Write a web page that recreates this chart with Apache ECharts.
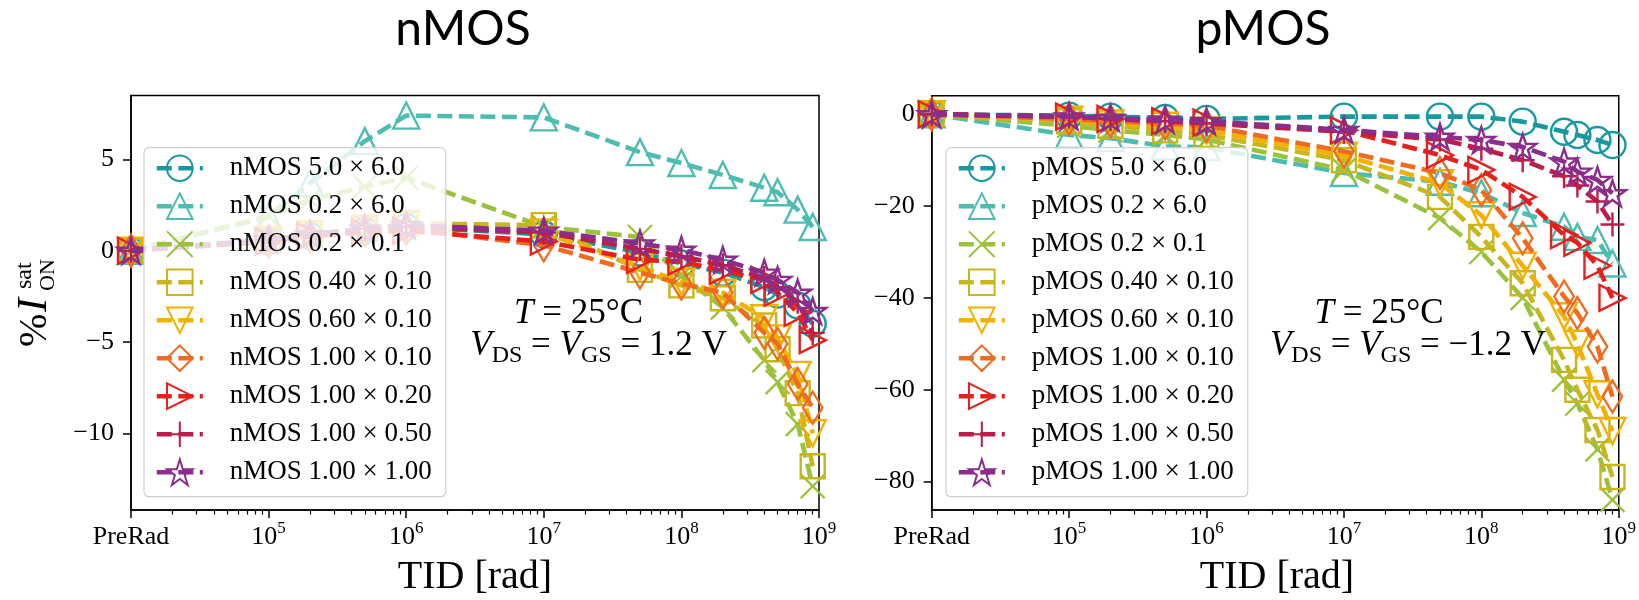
<!DOCTYPE html>
<html>
<head>
<meta charset="utf-8">
<script src="https://cdn.jsdelivr.net/npm/echarts@6/dist/echarts.min.js"></script>
<style>
  html, body { margin: 0; padding: 0; background: #fff; }
  #chart { width: 1639px; height: 600px; }
</style>
</head>
<body>
<div id="chart"></div>
<script>
// ---------------- DATA ----------------
// TID doses in rad; the PreRad point is drawn at 1e4 (the "PreRad" tick)
const doseRad = [1e4, 1e5, 2e5, 5e5, 1e6, 1e7, 5e7, 1e8, 2e8, 4e8, 5e8, 7e8, 9e8];
const xTickValues = [1e4, 1e5, 1e6, 1e7, 1e8, 1e9];
const xTickLabels = ['PreRad', '10^5', '10^6', '10^7', '10^8', '10^9'];
const nYTicks = [-10, -5, 0, 5];
const pYTicks = [-80, -60, -40, -20, 0];
const deviceSizes = ['5.0 × 6.0', '0.2 × 6.0', '0.2 × 0.1', '0.40 × 0.10', '0.60 × 0.10',
                     '1.00 × 0.10', '1.00 × 0.20', '1.00 × 0.50', '1.00 × 1.00'];

// nMOS  %I_ON^sat
const n_5p0x6p0   = [0, 0.5, 0.8, 1.1, 1.3, 0.9, -0.1, -0.7, -1.2, -2.0, -2.4, -3.0, -4.0];
const n_0p2x6p0   = [0, 1.85, 3.7, 6.0, 7.4, 7.3, 5.4, 4.8, 4.15, 3.45, 3.2, 2.25, 1.3];
const n_0p2x0p1   = [0, 1.9, 2.8, 3.5, 4.0, 1.3, 0.75, -1.4, -3.1, -6.0, -7.2, -9.5, -12.9];
const n_0p40x0p10 = [0, 0.6, 0.9, 1.2, 1.5, 1.4, -1.05, -1.9, -2.6, -4.1, -5.4, -7.8, -11.8];
const n_0p60x0p10 = [0, 0.6, 0.9, 1.2, 1.4, 1.0, -0.9, -1.7, -2.3, -3.7, -4.8, -6.8, -10.0];
const n_1p00x0p10 = [0, 0.5, 0.8, 1.1, 1.2, 0.3, -1.2, -1.8, -2.3, -4.5, -5.1, -7.3, -8.6];
const n_1p00x0p20 = [0, 0.5, 0.8, 1.0, 1.1, 0.5, -0.5, -0.6, -1.1, -1.6, -2.3, -3.4, -4.9];
const n_1p00x0p50 = [0, 0.6, 0.9, 1.2, 1.3, 1.0, 0.1, -0.3, -0.8, -1.5, -2.0, -2.8, -4.5];
const n_1p00x1p00 = [0, 0.6, 0.9, 1.2, 1.4, 1.1, 0.4, 0.05, -0.5, -1.2, -1.6, -2.3, -3.3];

// pMOS  %I_ON^sat
const p_5p0x6p0   = [0, -0.3, -0.5, -0.8, -1.0, -0.5, -0.5, -0.5, -1.6, -3.8, -4.5, -5.6, -6.7];
const p_0p2x6p0   = [0, -4.5, -5.2, -7.0, -7.2, -12.8, -14.7, -17.2, -21.5, -24.5, -26.7, -27.4, -32.5];
const p_0p2x0p1   = [0, -2.5, -3.5, -4.5, -5.5, -12.1, -22.6, -30.0, -40.0, -57.8, -63.0, -73.0, -84.0];
const p_0p40x0p10 = [0, -1.5, -2.5, -3.5, -4.5, -10.0, -18.0, -26.7, -36.8, -53.5, -60.0, -68.8, -79.0];
const p_0p60x0p10 = [0, -1.2, -2.0, -2.5, -3.5, -9.0, -15.0, -22.0, -33.0, -44.0, -50.0, -61.0, -69.0];
const p_1p00x0p10 = [0, -1.0, -1.5, -2.0, -2.5, -8.1, -12.8, -16.5, -27.0, -39.7, -43.3, -50.6, -61.5];
const p_1p00x0p20 = [0, -0.5, -1.0, -1.5, -1.8, -3.5, -8.9, -12.1, -18.0, -26.3, -28.0, -33.0, -40.0];
const p_1p00x0p50 = [0, -0.5, -1.0, -1.5, -2.0, -3.8, -5.5, -7.5, -10.0, -13.5, -15.5, -19.0, -24.0];
const p_1p00x1p00 = [0, -0.5, -0.8, -1.2, -1.5, -3.4, -4.9, -5.6, -7.1, -10.3, -12.5, -14.3, -17.2];

const nmosSeries = [n_5p0x6p0, n_0p2x6p0, n_0p2x0p1, n_0p40x0p10, n_0p60x0p10, n_1p00x0p10, n_1p00x0p20, n_1p00x0p50, n_1p00x1p00];
const pmosSeries = [p_5p0x6p0, p_0p2x6p0, p_0p2x0p1, p_0p40x0p10, p_0p60x0p10, p_1p00x0p10, p_1p00x0p20, p_1p00x0p50, p_1p00x1p00];

// ---------------- STYLE ----------------
const colors = ['#17999f', '#4dbcb1', '#9cc13c', '#c8b61f', '#f4b000', '#ee6b1f', '#e4211d', '#bb1e48', '#8a2d8c'];
function starPath() {
  let d = '';
  for (let k = 0; k < 10; k++) {
    const r = (k % 2 === 0) ? 10 : 3.82;
    const a = -Math.PI / 2 + k * Math.PI / 5;
    d += (k === 0 ? 'M' : 'L') + (10 + r * Math.cos(a)).toFixed(3) + ',' + (10 + r * Math.sin(a)).toFixed(3);
  }
  return 'path://' + d + 'Z';
}
const symbols = ['circle', 'triangle', 'path://M0,0L10,10M10,0L0,10', 'rect',
  'path://M0,0L10,0L5,10Z', 'path://M0,0L7.8,10L0,20L-7.8,10Z', 'path://M0,0L10,5L0,10Z',
  'path://M5,0L5,10M0,5L10,5', starPath()];
const symbolSizes = [26, 26, 24, 24, 26, [25, 32], 26, 24, 27];
const LINE_W = 4.6;
const DASH = [15, 6.5];

const SERIF = '"Liberation Serif", "DejaVu Serif", serif';
const xMinor = [];
for (let e = 4; e < 9; e++) for (let m = 2; m <= 9; m++) xMinor.push(m * Math.pow(10, e));

function xLabelFmt(v) {
  const e = Math.round(Math.log10(v));
  const idx = xTickValues.findIndex(t => Math.abs(Math.log10(t) - e) < 1e-6);
  const lab = idx >= 0 ? xTickLabels[idx] : '';
  if (lab.indexOf('^') >= 0) {
    const parts = lab.split('^');
    return '{b|' + parts[0] + '}{s|' + parts[1] + '}';
  }
  return '{b|' + lab + '}';
}
const xRich = {
  b: { fontFamily: SERIF, fontSize: 26, color: '#000', lineHeight: 30, verticalAlign: 'bottom' },
  s: { fontFamily: SERIF, fontSize: 17, color: '#000', lineHeight: 30, verticalAlign: 'top' }
};

function makeXAxes(gi) {
  return [{
    type: 'log', logBase: 10, gridIndex: gi, min: 1e4, max: 1e9, position: 'bottom',
    axisLine: { show: true, onZero: false, lineStyle: { color: '#000', width: 1.5 } },
    axisTick: { show: true, length: 8, lineStyle: { color: '#000', width: 1.5 }, customValues: xTickValues },
    axisLabel: { customValues: xTickValues, formatter: xLabelFmt, rich: xRich, margin: 10, fontFamily: SERIF, color: '#000' },
    splitLine: { show: false }, minorTick: { show: false }
  }, {
    type: 'log', logBase: 10, gridIndex: gi, min: 1e4, max: 1e9, position: 'bottom',
    axisLine: { show: false, onZero: false },
    axisTick: { show: true, length: 4.5, lineStyle: { color: '#000', width: 1.2 }, customValues: xMinor },
    axisLabel: { show: false },
    splitLine: { show: false }
  }];
}
function makeYAxis(gi, min, max, ticks) {
  return {
    type: 'value', gridIndex: gi, min: min, max: max,
    axisLine: { show: true, onZero: false, lineStyle: { color: '#000', width: 1.5 } },
    axisTick: { show: true, length: 8, lineStyle: { color: '#000', width: 1.5 }, customValues: ticks },
    axisLabel: { customValues: ticks, formatter: v => String(v).replace('-', '\u2212'),
                 fontFamily: SERIF, fontSize: 26, color: '#000', margin: 17 },
    splitLine: { show: false }
  };
}

const series = [];
function addSeries(prefix, arrs, xi, yi, zBase) {
  arrs.forEach((vals, i) => {
    series.push({
      type: 'line', name: prefix + ' ' + deviceSizes[i],
      xAxisIndex: xi, yAxisIndex: yi,
      data: doseRad.map((d, k) => [d, vals[k]]),
      symbol: symbols[i], symbolSize: symbolSizes[i], symbolKeepAspect: true,
      showSymbol: true,
      lineStyle: { color: colors[i], width: LINE_W, type: DASH },
      itemStyle: { color: 'rgba(255,255,255,0)', borderColor: colors[i], borderWidth: 2.4 },
      emphasis: { disabled: true },
      z: zBase + i,
      animation: false
    });
  });
}
addSeries('nMOS', nmosSeries, 0, 0, 3);
addSeries('pMOS', pmosSeries, 2, 1, 3);

function makeLegend(prefix, left) {
  return {
    orient: 'vertical', left: left, top: 147.7,
    itemWidth: 46, itemHeight: 32, itemGap: 6,
    padding: [4.5, 14, 8.5, 10.5],
    backgroundColor: 'rgba(255,255,255,0.8)', borderColor: '#cfcfcf', borderWidth: 1.2, borderRadius: 5,
    lineStyle: { width: LINE_W, type: DASH },
    textStyle: { fontFamily: SERIF, fontSize: 27, color: '#000', padding: [0, 0, 0, 22], lineHeight: 32 },
    data: deviceSizes.map(s => prefix + ' ' + s),
    selectedMode: false, z: 50
  };
}

function annot(x1, y1, x2, y2, vtxt) {
  const rich = {
    r: { fontFamily: SERIF, fontSize: 35, lineHeight: 44, verticalAlign: 'middle', fill: '#000' },
    i: { fontFamily: SERIF, fontSize: 35, fontStyle: 'italic', lineHeight: 44, verticalAlign: 'middle', fill: '#000' },
    s: { fontFamily: SERIF, fontSize: 24, lineHeight: 44, verticalAlign: 'bottom', fill: '#000' }
  };
  return [
    { type: 'text', x: x1, y: y1, z: 60, style: { text: '{i|T}{r| = 25°C}', rich: rich, align: 'center', verticalAlign: 'middle' } },
    { type: 'text', x: x2, y: y2, z: 60, style: { text: '{i|V}{s|DS}{r| = }{i|V}{s|GS}{r| = ' + vtxt + '}', rich: rich, align: 'center', verticalAlign: 'middle' } }
  ];
}

const graphic = [
  { type: 'text', x: 463, y: 30, style: { text: 'nMOS', font: '48px Lato, "Open Sans", sans-serif', fill: '#000', align: 'center', verticalAlign: 'middle' } },
  { type: 'text', x: 1263, y: 30, style: { text: 'pMOS', font: '48px Lato, "Open Sans", sans-serif', fill: '#000', align: 'center', verticalAlign: 'middle' } },
  { type: 'text', x: 475, y: 577, style: { text: 'TID [rad]', font: '40px ' + SERIF, fill: '#000', align: 'center', verticalAlign: 'middle' } },
  { type: 'text', x: 1277, y: 577, style: { text: 'TID [rad]', font: '40px ' + SERIF, fill: '#000', align: 'center', verticalAlign: 'middle' } },
  {
    type: 'group', x: 35, y: 347, rotation: Math.PI / 2,
    children: [
      { type: 'text', x: 0, y: 0, style: { text: '%', font: '40px ' + SERIF, fill: '#000', align: 'left', verticalAlign: 'middle' } },
      { type: 'text', x: 35, y: 0, style: { text: 'I', font: 'italic 42px ' + SERIF, fill: '#000', align: 'left', verticalAlign: 'middle' } },
      { type: 'text', x: 58, y: -10, style: { text: 'sat', font: '24px ' + SERIF, fill: '#000', align: 'left', verticalAlign: 'middle' } },
      { type: 'text', x: 56, y: 13, style: { text: 'ON', font: '22px ' + SERIF, fill: '#000', align: 'left', verticalAlign: 'middle' } }
    ]
  }
].concat(annot(578.5, 313.5, 598.5, 346, '1.2 V'), annot(1379, 313.5, 1408, 346, '\u22121.2 V'));

const option = {
  backgroundColor: '#fff',
  animation: false,
  grid: [
    { left: 131, top: 95.5, width: 688, height: 414.5, show: true, borderColor: '#000', borderWidth: 1.5, backgroundColor: 'transparent' },
    { left: 931.7, top: 95.7, width: 689.8, height: 414.3, show: true, borderColor: '#000', borderWidth: 1.5, backgroundColor: 'transparent' }
  ],
  xAxis: makeXAxes(0).concat(makeXAxes(1)),
  yAxis: [makeYAxis(0, -14.2, 8.5, nYTicks), makeYAxis(1, -86.2, 4.05, pYTicks)],
  legend: [makeLegend('nMOS', 144), makeLegend('pMOS', 946)],
  series: series,
  graphic: graphic
};

const chart = echarts.init(document.getElementById('chart'), null, { renderer: 'canvas' });
chart.setOption(option);
</script>
</body>
</html>
